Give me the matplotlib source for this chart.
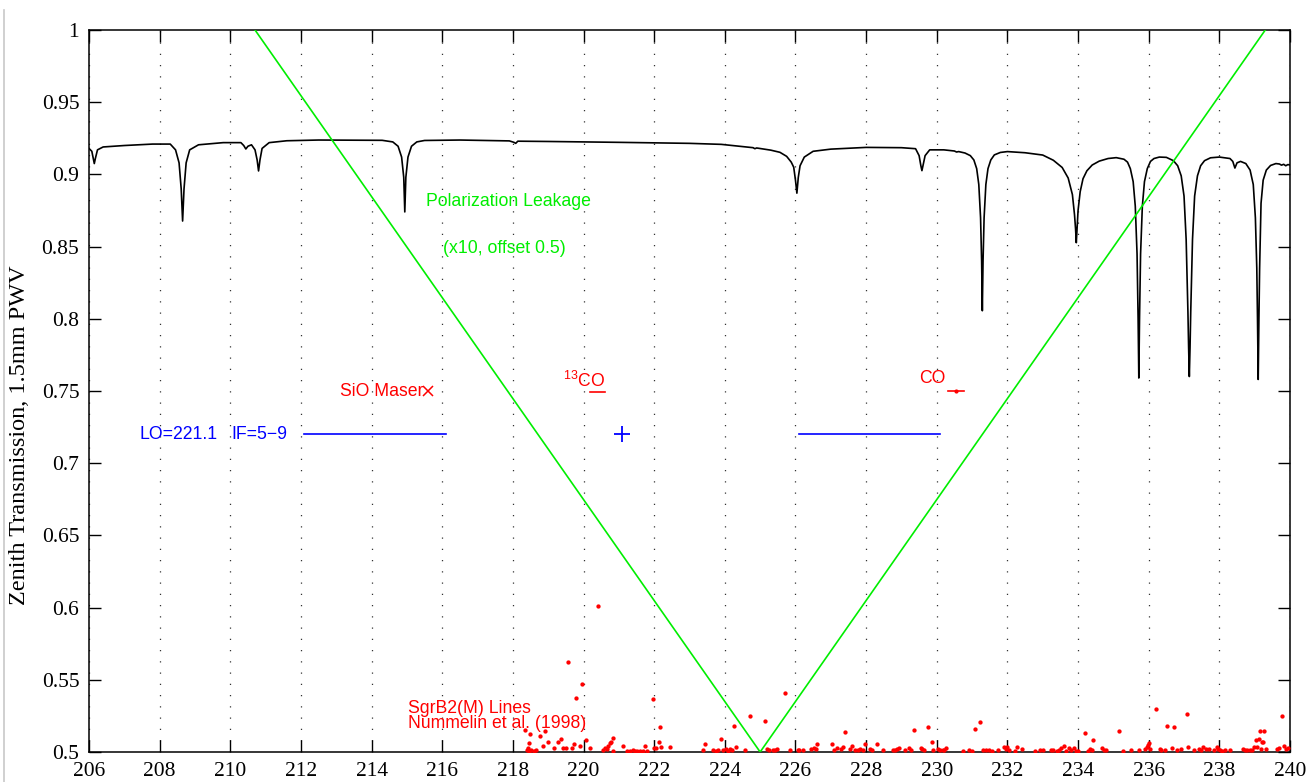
import matplotlib
matplotlib.use("Agg")
import matplotlib.pyplot as plt
from matplotlib.lines import Line2D

plt.rcParams['font.family'] = ['Liberation Sans', 'DejaVu Sans']
plt.rcParams['mathtext.fontset'] = 'custom'
plt.rcParams['mathtext.rm'] = 'Liberation Sans'

# ---------------- data ----------------
x_ticks = list(range(206, 241, 2))
y_ticks = [0.5, 0.55, 0.6, 0.65, 0.7, 0.75, 0.8, 0.85, 0.9, 0.95, 1.0]

# atmospheric zenith transmission (1.5 mm PWV)
trans_freq = [
    206.00, 206.08, 206.12, 206.15, 206.18, 206.24, 206.40, 207.00, 207.80, 208.30,
    208.45, 208.55, 208.61, 208.65, 208.69, 208.75, 208.85, 209.10, 209.80, 210.30,
    210.38, 210.44, 210.50, 210.60, 210.70, 210.76, 210.80, 210.84, 210.90, 211.10,
    211.60, 212.50, 214.30, 214.60, 214.75, 214.85, 214.91, 214.94, 214.97, 215.03,
    215.13, 215.28, 215.50, 216.50, 217.90, 218.03, 218.08, 218.14, 219.00, 221.00,
    223.00, 223.90, 224.80, 224.85, 224.90, 225.30, 225.56, 225.75, 225.88, 225.95,
    226.00, 226.04, 226.08, 226.13, 226.25, 226.50, 227.00, 228.00, 229.00, 229.40,
    229.50, 229.55, 229.58, 229.61, 229.67, 229.80, 230.20, 230.50, 230.56, 230.62,
    230.80, 230.95, 231.05, 231.13, 231.19, 231.24, 231.27, 231.29, 231.31, 231.34,
    231.39, 231.45, 231.53, 231.63, 231.80, 232.00, 232.50, 233.00, 233.30, 233.55,
    233.72, 233.84, 233.90, 233.93, 233.95, 233.97, 234.00, 234.06, 234.14, 234.25,
    234.40, 234.60, 234.85, 235.08, 235.30, 235.40, 235.48, 235.56, 235.62, 235.67,
    235.70, 235.72, 235.74, 235.77, 235.82, 235.88, 235.96, 236.05, 236.15, 236.30,
    236.50, 236.70, 236.82, 236.92, 237.00, 237.06, 237.11, 237.13, 237.15, 237.17,
    237.19, 237.24, 237.30, 237.38, 237.47, 237.58, 237.75, 238.00, 238.30, 238.38,
    238.44, 238.50, 238.60, 238.75, 238.87, 238.96, 239.02, 239.06, 239.08, 239.10,
    239.12, 239.14, 239.18, 239.24, 239.33, 239.45, 239.60, 239.70, 239.76, 239.82,
    239.88, 239.94, 240.00,
]
trans_val = [
    0.9180, 0.9160, 0.9110, 0.9075, 0.9110, 0.9170, 0.9190, 0.9200, 0.9210, 0.9210,
    0.9170, 0.9080, 0.8900, 0.8677, 0.8900, 0.9080, 0.9170, 0.9205, 0.9220, 0.9220,
    0.9200, 0.9176, 0.9195, 0.9205, 0.9170, 0.9100, 0.9024, 0.9100, 0.9180, 0.9220,
    0.9233, 0.9238, 0.9236, 0.9225, 0.9195, 0.9120, 0.8980, 0.8740, 0.8980, 0.9120,
    0.9195, 0.9225, 0.9235, 0.9238, 0.9232, 0.9222, 0.9215, 0.9230, 0.9228, 0.9222,
    0.9215, 0.9208, 0.9185, 0.9178, 0.9183, 0.9168, 0.9153, 0.9125, 0.9085, 0.9050,
    0.8960, 0.8870, 0.8980, 0.9060, 0.9120, 0.9160, 0.9175, 0.9187, 0.9185, 0.9178,
    0.9130, 0.9060, 0.9026, 0.9060, 0.9130, 0.9170, 0.9170, 0.9162, 0.9155, 0.9158,
    0.9148, 0.9130, 0.9100, 0.9040, 0.8930, 0.8700, 0.8400, 0.8056, 0.8400, 0.8700,
    0.8930, 0.9040, 0.9100, 0.9135, 0.9152, 0.9158, 0.9150, 0.9134, 0.9098, 0.9048,
    0.8975, 0.8860, 0.8720, 0.8620, 0.8527, 0.8620, 0.8750, 0.8880, 0.8970, 0.9025,
    0.9065, 0.9092, 0.9110, 0.9116, 0.9105, 0.9085, 0.9040, 0.8950, 0.8780, 0.8450,
    0.8000, 0.7590, 0.8000, 0.8450, 0.8780, 0.8950, 0.9040, 0.9090, 0.9110, 0.9120,
    0.9118, 0.9095, 0.9060, 0.8990, 0.8850, 0.8550, 0.8050, 0.7800, 0.7600, 0.7800,
    0.8050, 0.8550, 0.8850, 0.8990, 0.9060, 0.9095, 0.9115, 0.9120, 0.9110, 0.9090,
    0.9044, 0.9080, 0.9090, 0.9075, 0.9030, 0.8930, 0.8700, 0.8350, 0.8000, 0.7580,
    0.8000, 0.8350, 0.8800, 0.8960, 0.9030, 0.9062, 0.9075, 0.9072, 0.9064, 0.9070,
    0.9060, 0.9068, 0.9065,
]

# polarization leakage (x10, offset 0.5)
leak_freq = [210.7, 225.0, 239.3]
leak_val = [1.0, 0.5, 1.0]

# LO / IF bands
lo_freq = 221.1
if_level = 0.72
lsb_band = [212.1, 216.1]
usb_band = [226.1, 230.1]

# spectral line markers
sio_freq, sio_level = 215.6, 0.75
co13_freq, co13_halfwidth, co13_level = 220.4, 0.22, 0.749
co_freq, co_halfwidth, co_level = 230.54, 0.22, 0.75

# SgrB2(M) lines (Nummelin et al. 1998)
sgr_freq = [
    218.33, 218.48, 218.77, 218.92, 218.46, 218.86, 219.00, 219.17, 219.28, 219.36,
    219.43, 219.50, 219.56, 219.66, 219.73, 219.80, 219.90, 219.95, 220.08, 220.18,
    220.40, 218.39, 218.45, 218.52, 218.60, 218.66, 218.42, 220.56, 220.62, 220.70,
    220.74, 220.78, 220.83, 220.84, 220.66, 221.12, 221.22, 221.31, 221.39, 221.45,
    221.52, 221.60, 221.67, 221.74, 221.80, 221.96, 221.99, 222.06, 222.13, 222.17,
    222.19, 222.44, 223.39, 223.44, 223.67, 223.74, 223.80, 223.88, 223.96, 224.03,
    224.10, 224.15, 224.21, 224.27, 224.33, 224.58, 224.72, 225.15, 225.20, 225.26,
    225.35, 225.42, 225.48, 225.70, 225.84, 226.07, 226.10, 226.20, 226.45, 226.53,
    226.59, 226.60, 227.04, 227.09, 227.18, 227.30, 227.35, 227.41, 227.54, 227.60,
    227.68, 227.76, 227.82, 227.90, 227.98, 228.10, 228.16, 228.31, 228.48, 228.75,
    228.81, 228.88, 228.93, 229.10, 229.21, 229.27, 229.35, 229.55, 229.59, 229.64,
    229.76, 229.86, 229.90, 230.04, 230.10, 230.18, 230.21, 230.26, 230.75, 230.92,
    230.99, 231.07, 231.23, 231.31, 231.40, 231.48, 231.57, 231.74, 231.90, 231.95,
    231.99, 232.04, 232.21, 232.28, 232.42, 232.79, 232.93, 233.01, 233.22, 233.30,
    233.39, 233.46, 233.53, 233.60, 233.67, 233.74, 233.79, 233.89, 233.93, 234.00,
    234.19, 234.27, 234.33, 234.40, 234.43, 234.68, 234.74, 234.80, 235.15, 235.28,
    235.51, 235.73, 235.89, 235.95, 235.98, 236.00, 236.05, 236.22, 236.31, 236.36,
    236.46, 236.52, 236.67, 236.73, 236.81, 236.92, 237.07, 237.10, 237.29, 237.42,
    237.47, 237.54, 237.62, 237.71, 237.85, 237.92, 237.97, 238.01, 238.07, 238.15,
    238.31, 238.67, 238.73, 238.79, 238.87, 238.93, 238.98, 239.03, 239.07, 239.11,
    239.14, 239.18, 239.20, 239.23, 239.27, 239.33, 239.64, 239.69, 239.76, 239.83,
    239.88, 239.95,
]
sgr_val = [
    0.5150, 0.5125, 0.5113, 0.5144, 0.5065, 0.5042, 0.5067, 0.5030, 0.5071, 0.5090,
    0.5026, 0.5030, 0.5623, 0.5028, 0.5057, 0.5374, 0.5040, 0.5472, 0.5081, 0.5030,
    0.6010, 0.5013, 0.5010, 0.5012, 0.5010, 0.5013, 0.5025, 0.5013, 0.5030, 0.5042,
    0.5060, 0.5070, 0.5095, 0.5007, 0.5020, 0.5040, 0.5007, 0.5010, 0.5013, 0.5007,
    0.5010, 0.5007, 0.5010, 0.5040, 0.5007, 0.5365, 0.5030, 0.5030, 0.5067, 0.5175,
    0.5035, 0.5033, 0.5013, 0.5052, 0.5013, 0.5010, 0.5013, 0.5088, 0.5016, 0.5023,
    0.5010, 0.5020, 0.5015, 0.5180, 0.5035, 0.5015, 0.5250, 0.5217, 0.5018, 0.5016,
    0.5012, 0.5016, 0.5020, 0.5409, 0.5012, 0.5012, 0.5016, 0.5012, 0.5018, 0.5028,
    0.5018, 0.5053, 0.5053, 0.5014, 0.5025, 0.5023, 0.5032, 0.5136, 0.5021, 0.5040,
    0.5016, 0.5012, 0.5018, 0.5015, 0.5058, 0.5020, 0.5016, 0.5055, 0.5014, 0.5014,
    0.5016, 0.5023, 0.5025, 0.5014, 0.5025, 0.5017, 0.5152, 0.5026, 0.5020, 0.5014,
    0.5173, 0.5071, 0.5014, 0.5023, 0.5014, 0.5014, 0.5014, 0.5025, 0.5010, 0.5014,
    0.5010, 0.5157, 0.5205, 0.5016, 0.5014, 0.5014, 0.5010, 0.5014, 0.5032, 0.5018,
    0.5032, 0.5014, 0.5010, 0.5032, 0.5020, 0.5010, 0.5014, 0.5014, 0.5014, 0.5014,
    0.5010, 0.5016, 0.5030, 0.5039, 0.5010, 0.5030, 0.5016, 0.5025, 0.5010, 0.5010,
    0.5129, 0.5010, 0.5021, 0.5014, 0.5081, 0.5031, 0.5014, 0.5016, 0.5145, 0.5010,
    0.5016, 0.5014, 0.5020, 0.5037, 0.5050, 0.5060, 0.5021, 0.5300, 0.5021, 0.5014,
    0.5016, 0.5180, 0.5025, 0.5173, 0.5016, 0.5021, 0.5260, 0.5038, 0.5014, 0.5023,
    0.5016, 0.5032, 0.5018, 0.5018, 0.5014, 0.5032, 0.5020, 0.5016, 0.5010, 0.5016,
    0.5014, 0.5018, 0.5014, 0.5016, 0.5014, 0.5014, 0.5037, 0.5083, 0.5032, 0.5093,
    0.5143, 0.5021, 0.5069, 0.5069, 0.5147, 0.5021, 0.5018, 0.5028, 0.5247, 0.5042,
    0.5018, 0.5030,
]

# ---------------- figure ----------------
W, H = 1310, 782
fig = plt.figure(figsize=(W / 100, H / 100), dpi=100)
ax = fig.add_axes([89 / W, 1 - 752 / H, (1290 - 89) / W, (752 - 30) / H])

# page border line at far left
fig.add_artist(Line2D([4 / W, 4 / W], [0, 1 - 10 / H], transform=fig.transFigure,
                      color='#c8c8c8', lw=1.2))

ax.plot(trans_freq, trans_val, color='black', lw=1.2, zorder=3)
ax.plot(leak_freq, leak_val, color='#00ee00', lw=1.2, zorder=4)

# IF bands and LO
ax.plot(lsb_band, [if_level, if_level], color='#0000ff', lw=1.2)
ax.plot(usb_band, [if_level, if_level], color='#0000ff', lw=1.2)
ax.plot([lo_freq], [if_level], marker='+', color='#0000ff', ms=11, mew=1.3, ls='none')
ax.text(207.42, if_level, 'LO=221.1', color='#0000ff', fontsize=12.7, ha='left', va='center')
ax.text(210.02, if_level, 'IF=5\u22129', color='#0000ff', fontsize=12.7, ha='left', va='center')

# SiO maser
ax.plot([sio_freq], [sio_level], marker='x', color='#ff0000', ms=7, mew=1.1, ls='none')
ax.text(215.47, sio_level, 'SiO Maser', color='#ff0000', fontsize=12.7, ha='right', va='center')

# 13CO and CO
ax.plot([co13_freq - co13_halfwidth, co13_freq + co13_halfwidth], [co13_level, co13_level],
        color='#ff0000', lw=1.2)
ax.text(220.62, 0.7525, r'$\mathregular{^{13}}$CO', color='#ff0000', fontsize=12.7,
        ha='right', va='baseline')
ax.plot([co_freq - co_halfwidth, co_freq + co_halfwidth], [co_level, co_level],
        color='#ff0000', lw=1.2)
ax.plot([co_freq], [co_level], marker='.', color='#ff0000', ms=4, ls='none')
ax.text(230.25, 0.7555, 'CO', color='#ff0000', fontsize=12.7, ha='right', va='baseline')

# polarization leakage label
ax.text(215.53, 0.881, 'Polarization Leakage', color='#00ee00', fontsize=12.7,
        ha='left', va='center')
ax.text(216.03, 0.849, '(x10, offset 0.5)', color='#00ee00', fontsize=12.7,
        ha='left', va='center')

# SgrB2 lines
ax.plot(sgr_freq, sgr_val, ls='none', marker='o', ms=3.1, mew=0, color='#ff0000', zorder=5)
ax.text(215.02, 0.5300, 'SgrB2(M) Lines', color='#ff0000', fontsize=12.7, ha='left', va='center')
ax.text(215.02, 0.5198, 'Nummelin et al. (1998)', color='#ff0000', fontsize=12.7,
        ha='left', va='center')

# axes styling
ax.set_xlim(206, 240)
ax.set_ylim(0.5, 1.0)
ax.set_xticks(x_ticks)
ax.set_yticks(y_ticks)
ax.set_xticklabels([str(v) for v in x_ticks])
ax.set_yticklabels(['%g' % v for v in y_ticks])
ax.tick_params(direction='in', top=True, right=True, length=8.5, width=1.0,
               labelsize=15.5, labelfontfamily='Liberation Serif', pad=7, colors='black')
ax.xaxis.grid(True, linestyle=(0, (1, 8)), color='#333333', lw=0.9)
for sp in ax.spines.values():
    sp.set_linewidth(1.1)

fig.text(20 / W, 1 - 435 / H, 'Zenith Transmission, 1.5mm PWV', rotation=90,
         ha='center', va='center', fontsize=17.5, family='Liberation Serif')

fig.savefig('out.png', dpi=100)
